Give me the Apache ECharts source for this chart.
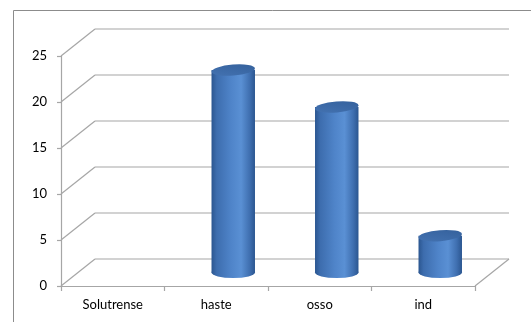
<!DOCTYPE html>
<html>
<head>
<meta charset="utf-8">
<script src="https://cdn.jsdelivr.net/npm/echarts@6/dist/echarts.min.js"></script>
<style>
html,body{margin:0;padding:0;background:#fff;}
#chart{width:531px;height:322px;}
</style>
</head>
<body>
<div id="chart"></div>
<script>
const categories = ['Solutrense', 'haste', 'osso', 'ind'];
const values = [0, 22, 18, 4];
const yTicks = [0, 5, 10, 15, 20, 25];

const DX = 34, DY = -27;
const GRID_COLOR = '#a6a6a6';
const FONT = 'Lato';

const chart = echarts.init(document.getElementById('chart'));

function frameItem(params, api) {
  const cs = params.coordSys;
  const v = api.value(1);
  const y = api.coord([0, v])[1];
  const x0 = cs.x, x1 = cs.x + cs.width;
  const ls = { stroke: GRID_COLOR, lineWidth: 1.2 };
  const children = [
    { type: 'line', shape: { x1: x0, y1: y, x2: x0 + DX, y2: y + DY }, style: ls },
    { type: 'line', shape: { x1: x0 + DX, y1: y + DY, x2: x1 + DX, y2: y + DY }, style: ls }
  ];
  if (v === 0) {
    children.push({ type: 'line', shape: { x1: x1, y1: y, x2: x1 + DX, y2: y + DY }, style: ls });
  }
  return { type: 'group', children: children };
}

function cylinderItem(params, api) {
  const idx = api.value(0);
  const v = api.value(1);
  if (!v) return { type: 'group', children: [] };
  const top = api.coord([idx, v]);
  const base = api.coord([idx, 0]);
  const bw = api.size([1, 0])[0];
  const rx = bw * 0.21;
  const ry = 5.5;
  const cx = top[0] + DX / 2;
  const ty = top[1] + DY / 2;
  const by = base[1] + DY / 2;
  const bodyGrad = new echarts.graphic.LinearGradient(0, 0, 1, 0, [
    { offset: 0, color: '#2b5690' },
    { offset: 0.12, color: '#3d6dae' },
    { offset: 0.45, color: '#4f84c9' },
    { offset: 0.68, color: '#5a90d4' },
    { offset: 0.88, color: '#3f6fb0' },
    { offset: 1, color: '#2b5690' }
  ]);
  const topGrad = new echarts.graphic.LinearGradient(0, 1, 1, 0, [
    { offset: 0, color: '#4473b2' },
    { offset: 1, color: '#34609b' }
  ]);
  return {
    type: 'group',
    children: [
      { type: 'circle', shape: { cx: 0, cy: 0, r: rx }, x: cx, y: by, scaleY: ry / rx,
        style: { fill: bodyGrad } },
      { type: 'rect', shape: { x: cx - rx, y: ty, width: rx * 2, height: by - ty },
        style: { fill: bodyGrad } },
      { type: 'circle', shape: { cx: 0, cy: 0, r: rx }, x: cx, y: ty, scaleY: ry / rx,
        rotation: 0.08, style: { fill: topGrad } }
    ]
  };
}

const option = {
  backgroundColor: '#fff',
  animation: false,
  graphic: [
    { type: 'rect', left: 11, top: 8, shape: { width: 600, height: 400 },
      style: { fill: 'none', stroke: '#8c8c8c', lineWidth: 1 }, z: 0 }
  ],
  grid: { left: 61, right: 56, top: 56, bottom: 36 },
  xAxis: {
    type: 'category',
    data: categories,
    boundaryGap: true,
    axisLine: { lineStyle: { color: GRID_COLOR, width: 1.2 } },
    axisTick: { show: true, length: 5, lineStyle: { color: GRID_COLOR, width: 1.2 } },
    axisLabel: { color: '#000', fontFamily: FONT, fontSize: 13, margin: 12 },
    splitLine: { show: false }
  },
  yAxis: {
    type: 'value',
    min: 0, max: 25, interval: 5,
    axisLine: { show: true, lineStyle: { color: GRID_COLOR, width: 1.2 } },
    axisTick: { show: true, length: 4, lineStyle: { color: GRID_COLOR, width: 1.2 } },
    axisLabel: { color: '#000', fontFamily: FONT, fontSize: 13, margin: 14 },
    splitLine: { show: false }
  },
  series: [
    {
      type: 'custom',
      name: 'frame',
      silent: true,
      clip: false,
      z: 1,
      renderItem: frameItem,
      encode: { x: 0, y: 1 },
      data: yTicks.map(v => [0, v])
    },
    {
      type: 'custom',
      name: 'values',
      clip: false,
      z: 3,
      renderItem: cylinderItem,
      encode: { x: 0, y: 1 },
      data: values.map((v, i) => [i, v])
    }
  ]
};
chart.setOption(option);
</script>
</body>
</html>
